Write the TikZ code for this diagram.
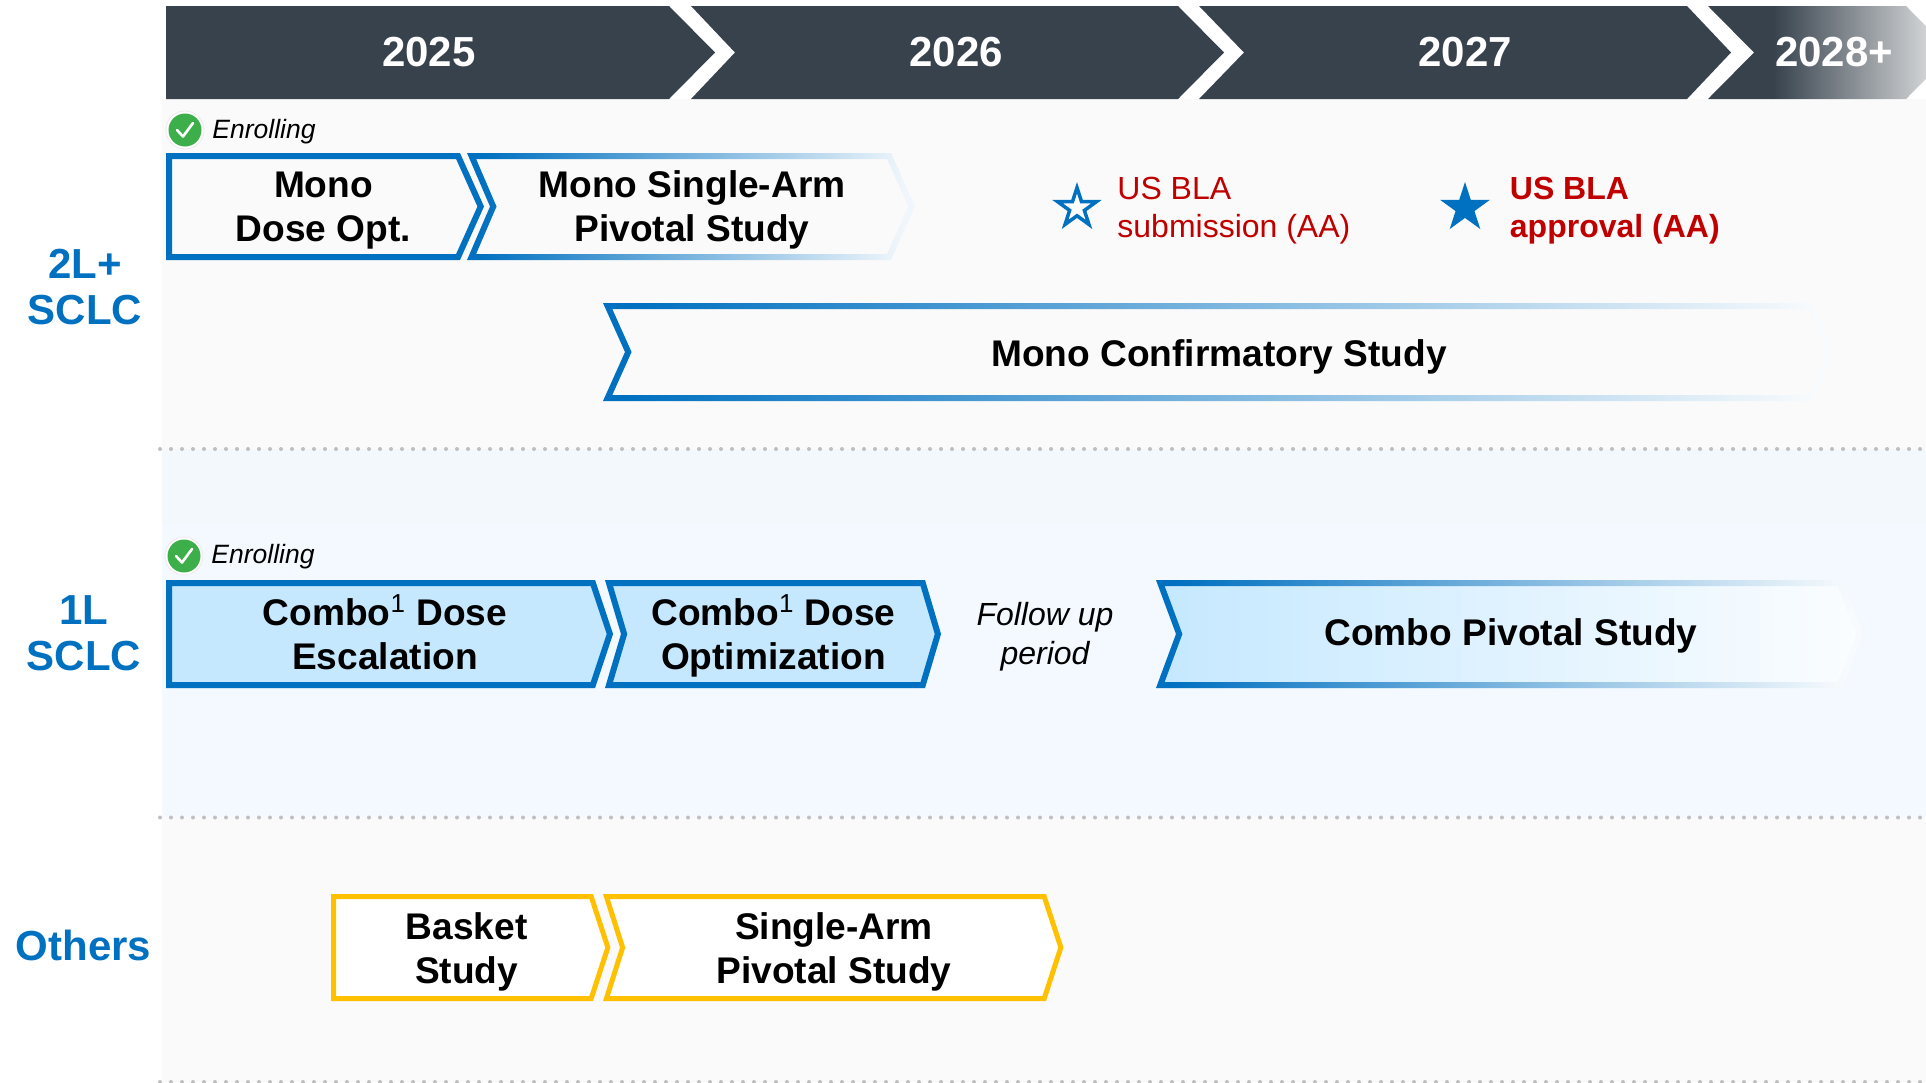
\documentclass[tikz,border=0pt]{standalone}
\usepackage{fontspec}
\setmainfont{Liberation Sans}
\usetikzlibrary{shapes.geometric}
\definecolor{hdr}{HTML}{37424D}
\definecolor{bluec}{HTML}{0070C0}
\definecolor{redc}{HTML}{C00000}
\definecolor{gold}{HTML}{FFC000}
\definecolor{bandgrey}{HTML}{FAFAFA}
\definecolor{bandblue}{HTML}{F3F9FF}
\definecolor{bandbluetop}{HTML}{F3F8FC}
\definecolor{lightfill}{HTML}{C5E8FF}
\definecolor{dotc}{HTML}{BFBFBF}
\definecolor{greenc}{HTML}{3CAF4B}
\pgfdeclarehorizontalshading{hdrfade}{100bp}{color(0bp)=(hdr); color(38.3bp)=(hdr); color(75bp)=(white!92!black); color(100bp)=(white!92!black)}
\newcommand\chev[9]{%
  \pgfmathsetmacro\cvYm{(#5+#6)/2}%
  \pgfmathsetmacro\cvH{(#6-#5)/2}%
  \pgfmathsetmacro\cvMr{#4/\cvH}%
  \pgfmathsetmacro\cvHr{#7*sqrt(1+\cvMr*\cvMr)}%
  \pgfmathsetmacro\cvMl{#2/\cvH}%
  \pgfmathsetmacro\cvHl{#7*sqrt(1+\cvMl*\cvMl)}%
  \path[#9] (#1,#5) -- (#3,#5) -- ({#3+#4},\cvYm) -- (#3,#6) -- (#1,#6) -- ({#1+#2},\cvYm) -- cycle;
  \path[#8,even odd rule] (#1,#5) -- (#3,#5) -- ({#3+#4},\cvYm) -- (#3,#6) -- (#1,#6) -- ({#1+#2},\cvYm) -- cycle
    ({#1+\cvMl*#7+\cvHl},{#5+#7}) -- ({#3+\cvMr*#7-\cvHr},{#5+#7}) -- ({#3+#4-\cvHr},\cvYm) -- ({#3+\cvMr*#7-\cvHr},{#6-#7}) -- ({#1+\cvMl*#7+\cvHl},{#6-#7}) -- ({#1+#2+\cvHl},\cvYm) -- cycle;
}
\tikzset{
  year/.style={inner sep=0pt,anchor=base,text=white,font=\fontsize{21}{25}\selectfont\bfseries},
  study/.style={inner sep=0pt,anchor=base,align=center,text=black,font=\fontsize{18.55}{22.3}\selectfont\bfseries},
  rowlab/.style={inner sep=0pt,anchor=base,align=center,text=bluec,font=\fontsize{21}{23}\selectfont\bfseries},
  enrol/.style={inner sep=0pt,anchor=west,text=black,font=\fontsize{13.25}{16}\selectfont\itshape},
  milestone/.style={inner sep=0pt,anchor=base west,align=left,text=redc,font=\fontsize{16}{19}\selectfont},
  hdrshape/.style={fill=hdr},
  dotline/.style={draw=dotc,line width=2pt,line cap=round,dash pattern=on 0pt off 5.5pt},
  solidblue/.style={fill=bluec},
  solidgold/.style={fill=gold},
  fadeblue/.style={left color=bluec,right color=bluec!6!white,shading angle=86},
  okhalo/.style={circle,fill=white,draw=black!8,line width=.4pt,inner sep=0pt,minimum size=19pt},
  okdisc/.style={circle,fill=greenc,inner sep=0pt,minimum size=16.5pt},
  okmark/.style={draw=white,line width=1.3pt,line cap=round,line join=round},
  starshape/.style={star,star points=5,star point ratio=2.618,inner sep=0pt,outer sep=0pt}
}
\begin{document}
\begin{tikzpicture}[x=0.5pt,y=-0.5pt]
\useasboundingbox (0,0) rectangle (1926,1082);
\fill[white] (0,0) rectangle (1926,1082);
% bands
\fill[bandgrey] (162,99) rectangle (1926,449);
\fill[bandbluetop] (162,449) rectangle (1926,524);
\fill[bandblue] (162,524) rectangle (1926,817);
\fill[bandgrey] (162,817) rectangle (1926,1082);
% dotted separators
\coordinate (d1a) at (160,449); \coordinate (d1b) at (1926,449);
\coordinate (d2a) at (160,817.5); \coordinate (d2b) at (1926,817.5);
\coordinate (d3a) at (160,1082); \coordinate (d3b) at (1926,1082);
\draw[dotline] (d1a) -- (d1b);
\draw[dotline] (d2a) -- (d2b);
\draw[dotline] (d3a) -- (d3b);
% header
\fill[hdrshape] (166,6) -- (669,6) -- (715,52.5) -- (669,99) -- (166,99) -- cycle;
\fill[hdrshape] (691,6) -- (1178,6) -- (1224,52.5) -- (1178,99) -- (691,99) -- (735,52.5) -- cycle;
\fill[hdrshape] (1199,6) -- (1687,6) -- (1731,52.5) -- (1687,99) -- (1199,99) -- (1244,52.5) -- cycle;
\shade[shading=hdrfade] (1708,6) -- (1906,6) -- (1952,52.5) -- (1906,99) -- (1708,99) -- (1754,52.5) -- cycle;
\node[year] (y25) at (429,66) {2025};
\node[year] (y26) at (956,66) {2026};
\node[year] (y27) at (1465,66) {2027};
\node[year] (y28) at (1834,66) {2028+};
% row labels
\node[rowlab] (r1) at (85,324) {2L+\\SCLC};
\node[rowlab] (r2) at (84,670.5) {1L\\SCLC};
\node[rowlab] (r3) at (83.5,960) {Others};
% enrolling
\node[okhalo] (h1) at (185,130) {};
\node[okdisc] (k1) at (h1) {};
\draw[okmark] ([shift={(-8,0)}]k1.center) -- ([shift={(-2,6.5)}]k1.center) -- ([shift={(8,-7)}]k1.center);
\node[enrol] (e1) at (212,132) {Enrolling};
\node[okhalo] (h2) at (184,556) {};
\node[okdisc] (k2) at (h2) {};
\draw[okmark] ([shift={(-8,0)}]k2.center) -- ([shift={(-2,6.5)}]k2.center) -- ([shift={(8,-7)}]k2.center);
\node[enrol] (e2) at (211,557) {Enrolling};
% 2L+ row
\chev{166}{0}{460}{24}{153}{260}{6}{solidblue}{draw=none}
\chev{467}{23}{891}{24}{153}{260}{6}{fadeblue}{draw=none}
\chev{603}{22}{1812}{22}{303}{401}{6}{left color=bluec,right color=bluec!3!white,shading angle=88}{draw=none}
\node[study] (t1) at (323.5,241.6) {Mono\\Dose Opt.};
\node[study] (t2) at (692,241.6) {Mono Single-Arm\\Pivotal Study};
\node[study] (t3) at (1219,366) {Mono Confirmatory Study};
% stars
\node[starshape,draw=bluec,fill=white,line width=1.75pt,minimum size=20.3pt] (s1) at (1077,208) {};
\node[starshape,fill=bluec,minimum size=26pt] (s2) at (1465,208) {};
\node[milestone] (m1) at (1117,237.5) {US BLA\\submission (AA)};
\node[milestone,font=\fontsize{16}{19}\selectfont\bfseries] (m2) at (1509.5,237.5) {US BLA\\approval (AA)};
% 1L row
\chev{166}{0}{595}{18}{580}{688}{6}{solidblue}{fill=lightfill}
\chev{605}{16}{925}{16}{580}{688}{6}{solidblue}{fill=lightfill}
\chev{1156}{20}{1842}{21}{580}{688}{6}{left color=bluec,right color=bluec!3!white,shading angle=87}{left color=lightfill,right color=white!70!bandblue}
\node[study] (t4) at (385,669.6) {Combo\textsuperscript{\mdseries 1} Dose\\Escalation};
\node[study] (t5) at (773.4,669.6) {Combo\textsuperscript{\mdseries 1} Dose\\Optimization};
\node[study] (t6) at (1511,645.5) {Combo Pivotal Study};
\node[milestone,anchor=base,align=center,text=black,font=\fontsize{16}{19.5}\selectfont\itshape] (f1) at (1045,664.5) {Follow up\\period};
% others row
\chev{331}{0}{593}{17.5}{894}{1001}{5}{solidgold}{fill=white}
\chev{603}{17}{1046}{17.5}{894}{1001}{5}{solidgold}{fill=white}
\node[study] (t7) at (466.6,983.6) {Basket\\Study};
\node[study] (t8) at (834,983.6) {Single-Arm\\Pivotal Study};
\end{tikzpicture}
\end{document}
